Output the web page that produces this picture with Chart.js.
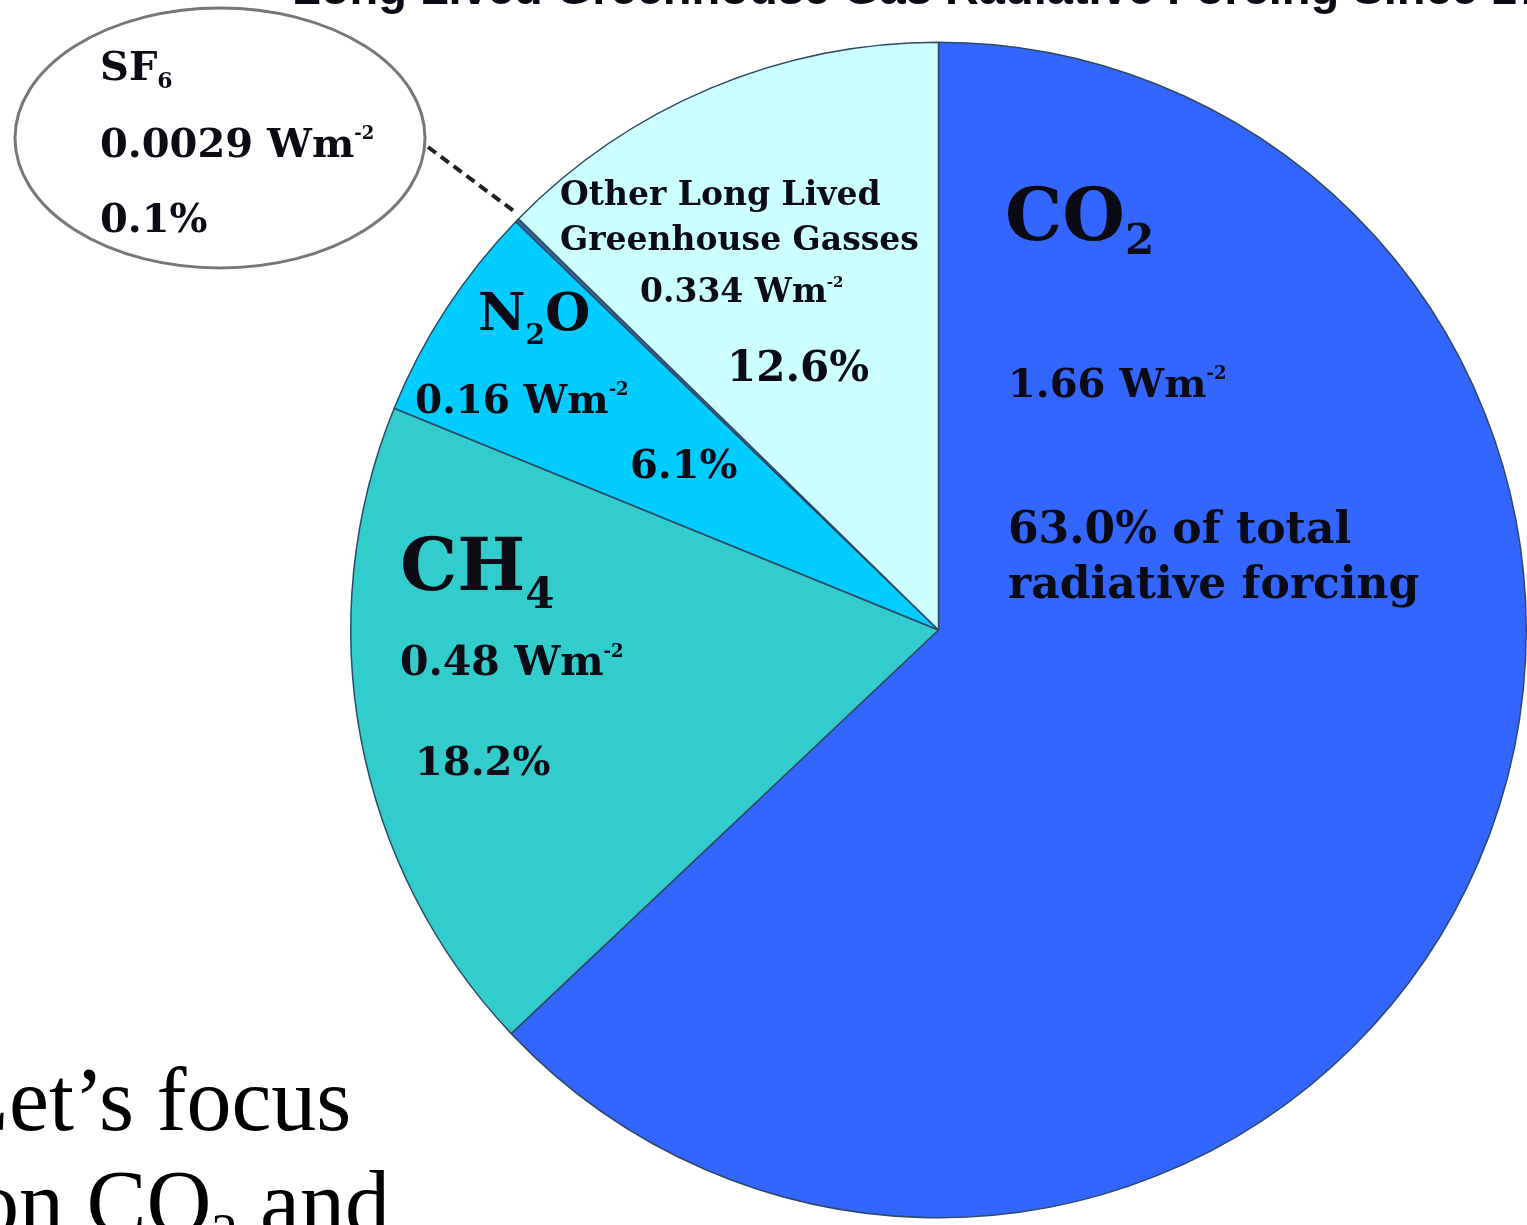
<!DOCTYPE html>
<html>
<head>
<meta charset="utf-8">
<title>Long Lived Greenhouse Gas Radiative Forcing</title>
<script src="https://cdn.jsdelivr.net/npm/chart.js@4.4.0/dist/chart.umd.min.js"></script>
<style>
  html, body { margin: 0; padding: 0; background: #fff; overflow: hidden; }
  #wrap { position: relative; width: 1527px; height: 1225px; }
</style>
</head>
<body>
<div id="wrap"><canvas id="pie" width="1527" height="1225"></canvas></div>
<script>
// slices, clockwise from 12 o'clock
const gases = ["CO2", "CH4", "N2O", "SF6", "Other Long Lived Greenhouse Gasses"];
const forcing = [1.66, 0.48, 0.16, 0.0029, 0.334];   // Wm-2
const forcingText = ["1.66", "0.48", "0.16", "0.0029", "0.334"];
const percentText = ["63.0%", "18.2%", "6.1%", "0.1%", "12.6%"];
const colors = ["#3366FF", "#33CCCC", "#00CCFF", "#336699", "#CCFFFF"];

const serif = '"DejaVu Serif", "Liberation Serif", serif';

// draws runs of text: [text, size, dy]
function runs(ctx, x, y, parts) {
  let cx = x;
  parts.forEach(p => {
    ctx.font = 'bold ' + p[1] + 'px ' + serif;
    ctx.fillText(p[0], cx, y + (p[2] || 0));
    cx += ctx.measureText(p[0]).width;
  });
}

function wm(ctx, x, y, value, size) {
  runs(ctx, x, y, [[value + ' Wm', size], ['-2', Math.round(size * 0.45), -size * 0.45]]);
}

const labelsPlugin = {
  id: 'labels',
  afterDraw(chart) {
    const ctx = chart.ctx;
    ctx.save();
    ctx.textBaseline = 'alphabetic';
    ctx.fillStyle = '#0b0b16';

    // title, mostly above the picture
    ctx.font = 'bold 47px "Liberation Sans", Arial, sans-serif';
    ctx.fillText('Long Lived Greenhouse Gas Radiative Forcing Since 1750', 292, 4);

    // CO2
    runs(ctx, 1005, 240, [['CO', 72], ['2', 42, 14]]);
    wm(ctx, 1008, 397, forcingText[0], 40);
    ctx.font = 'bold 44px ' + serif;
    ctx.fillText(percentText[0] + ' of total', 1008, 543);
    ctx.fillText('radiative forcing', 1008, 598);

    // CH4
    runs(ctx, 400, 590, [['CH', 72], ['4', 42, 18]]);
    wm(ctx, 400, 675, forcingText[1], 41);
    runs(ctx, 415, 775, [[percentText[1], 40]]);

    // N2O
    runs(ctx, 478, 330, [['N', 52], ['2', 28, 14], ['O', 52]]);
    wm(ctx, 415, 413, forcingText[2], 39);
    runs(ctx, 630, 478, [[percentText[2], 40]]);

    // other
    ctx.font = 'bold 33px ' + serif;
    ctx.fillText('Other Long Lived', 560, 205);
    ctx.fillText('Greenhouse Gasses', 560, 250);
    wm(ctx, 640, 302, forcingText[4], 33);
    runs(ctx, 727, 381, [[percentText[4], 42]]);

    // SF6 callout
    ctx.strokeStyle = '#777';
    ctx.lineWidth = 3;
    ctx.beginPath();
    ctx.ellipse(220, 138, 205, 130, 0, 0, Math.PI * 2);
    ctx.stroke();
    ctx.strokeStyle = '#222';
    ctx.lineWidth = 4;
    ctx.setLineDash([10, 6]);
    ctx.beginPath();
    ctx.moveTo(428, 147);
    ctx.lineTo(515, 212);
    ctx.stroke();
    ctx.setLineDash([]);
    runs(ctx, 100, 80, [['SF', 40], ['6', 22, 8]]);
    wm(ctx, 100, 157, forcingText[3], 40);
    runs(ctx, 100, 232, [[percentText[3], 40]]);

    // slide text
    ctx.fillStyle = '#000';
    ctx.font = '90px "Liberation Serif", serif';
    ctx.fillText('Let\u2019s focus', -46, 1130);
    ctx.fillText('on CO', -26, 1233);
    let w = ctx.measureText('on CO').width;
    ctx.font = '52px "Liberation Serif", serif';
    ctx.fillText('2', -26 + w, 1250);
    let w2 = ctx.measureText('2').width;
    ctx.font = '90px "Liberation Serif", serif';
    ctx.fillText(' and', -26 + w + w2, 1233);
    ctx.restore();
  }
};

const config = {
  type: 'pie',
  data: {
    labels: gases,
    datasets: [{
      data: forcing,
      backgroundColor: colors,
      borderColor: '#2c4a66',
      borderWidth: 1.5
    }]
  },
  options: {
    responsive: false,
    devicePixelRatio: 1,
    animation: false,
    layout: { padding: { left: 350, top: 40, right: 0, bottom: 5 } },
    plugins: {
      legend: { display: false },
      tooltip: { enabled: false }
    }
  },
  plugins: [labelsPlugin]
};
var myChart = new Chart(document.getElementById('pie'), config);
</script>
</body>
</html>
